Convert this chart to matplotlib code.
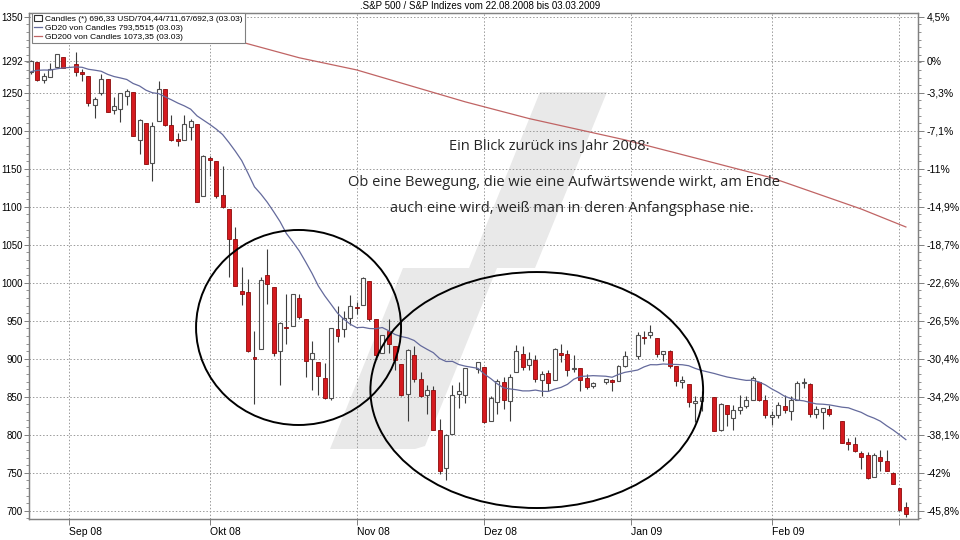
import matplotlib
matplotlib.use("Agg")
import matplotlib.pyplot as plt
import numpy as np
import pandas as pd
from matplotlib.lines import Line2D
from matplotlib.patches import Ellipse, Polygon, Rectangle
from matplotlib.ticker import FixedLocator, MultipleLocator, FuncFormatter
from matplotlib import transforms

plt.rcParams["font.family"] = ["Liberation Sans", "DejaVu Sans"]

# S&P 500 daily candles, 22.08.2008 - 03.03.2009
dates = [
    "2008-08-22", "2008-08-25", "2008-08-26", "2008-08-27", "2008-08-28", "2008-08-29",
    "2008-09-02", "2008-09-03", "2008-09-04", "2008-09-05", "2008-09-08", "2008-09-09",
    "2008-09-10", "2008-09-11", "2008-09-12", "2008-09-15", "2008-09-16", "2008-09-17",
    "2008-09-18", "2008-09-19", "2008-09-22", "2008-09-23", "2008-09-24", "2008-09-25",
    "2008-09-26", "2008-09-29", "2008-09-30",
    "2008-10-01", "2008-10-02", "2008-10-03", "2008-10-06", "2008-10-07", "2008-10-08",
    "2008-10-09", "2008-10-10", "2008-10-13", "2008-10-14", "2008-10-15", "2008-10-16",
    "2008-10-17", "2008-10-20", "2008-10-21", "2008-10-22", "2008-10-23", "2008-10-24",
    "2008-10-27", "2008-10-28", "2008-10-29", "2008-10-30", "2008-10-31",
    "2008-11-03", "2008-11-04", "2008-11-05", "2008-11-06", "2008-11-07", "2008-11-10",
    "2008-11-11", "2008-11-12", "2008-11-13", "2008-11-14", "2008-11-17", "2008-11-18",
    "2008-11-19", "2008-11-20", "2008-11-21", "2008-11-24", "2008-11-25", "2008-11-26",
    "2008-11-28",
    "2008-12-01", "2008-12-02", "2008-12-03", "2008-12-04", "2008-12-05", "2008-12-08",
    "2008-12-09", "2008-12-10", "2008-12-11", "2008-12-12", "2008-12-15", "2008-12-16",
    "2008-12-17", "2008-12-18", "2008-12-19", "2008-12-22", "2008-12-23", "2008-12-24",
    "2008-12-26", "2008-12-29", "2008-12-30", "2008-12-31",
    "2009-01-02", "2009-01-05", "2009-01-06", "2009-01-07", "2009-01-08", "2009-01-09",
    "2009-01-12", "2009-01-13", "2009-01-14", "2009-01-15", "2009-01-16", "2009-01-20",
    "2009-01-21", "2009-01-22", "2009-01-23", "2009-01-26", "2009-01-27", "2009-01-28",
    "2009-01-29", "2009-01-30",
    "2009-02-02", "2009-02-03", "2009-02-04", "2009-02-05", "2009-02-06", "2009-02-09",
    "2009-02-10", "2009-02-11", "2009-02-12", "2009-02-13", "2009-02-17", "2009-02-18",
    "2009-02-19", "2009-02-20", "2009-02-23", "2009-02-24", "2009-02-25", "2009-02-26",
    "2009-02-27",
    "2009-03-02", "2009-03-03",
]
opens = [
    1277.59, 1290.47, 1267.03, 1271.29, 1283.79, 1296.49,
    1287.83, 1276.61, 1271.80, 1233.21, 1249.50, 1267.98,
    1227.50, 1229.04, 1245.88, 1250.92, 1188.31, 1210.34,
    1157.08, 1213.11, 1255.37, 1207.61, 1188.79, 1187.87,
    1204.47, 1209.07, 1113.78,
    1164.17, 1160.64, 1115.16, 1097.56, 1057.60, 988.91,
    988.42, 902.31, 912.75, 1009.97, 994.60, 909.53,
    942.29, 943.51, 980.40, 951.67, 899.08, 895.22,
    874.28, 848.92, 939.51, 939.38, 953.11,
    968.67, 971.31, 1001.84, 952.40, 907.44, 936.75,
    917.15, 893.39, 853.13, 904.36, 873.23, 852.34,
    859.03, 805.87, 755.84, 801.20, 853.40, 852.90,
    886.89,
    888.61, 817.94, 843.60, 869.75, 844.43, 882.71,
    906.48, 892.17, 898.35, 871.79, 881.07, 871.53,
    908.16, 905.98, 886.96, 887.20, 874.31, 863.87,
    869.51, 872.37, 870.58, 890.59,
    902.99, 929.17, 931.17, 927.45, 905.73, 909.91,
    890.40, 869.79, 867.28, 841.99, 844.45, 849.64,
    806.77, 839.74, 822.16, 832.50, 837.30, 845.73,
    868.89, 845.69,
    823.09, 825.69, 837.77, 831.75, 846.09, 868.24,
    866.87, 827.41, 829.91, 833.95, 818.61, 791.06,
    787.91, 775.87, 773.25, 744.69, 770.64, 765.76,
    749.93,
    729.57, 704.44,
]
highs = [
    1293.09, 1290.47, 1275.65, 1289.59, 1300.68, 1297.59,
    1303.04, 1280.60, 1271.80, 1244.94, 1274.42, 1268.66,
    1243.90, 1249.98, 1255.09, 1250.92, 1214.84, 1210.34,
    1211.14, 1265.12, 1255.37, 1221.15, 1197.41, 1220.03,
    1215.77, 1209.07, 1168.03,
    1167.03, 1160.64, 1153.82, 1097.56, 1072.91, 1021.06,
    1005.25, 936.36, 1006.93, 1044.31, 994.60, 947.71,
    984.64, 985.40, 985.44, 951.67, 922.83, 896.30,
    893.78, 940.51, 969.97, 963.23, 984.38,
    975.10, 1007.51, 1001.84, 952.40, 931.46, 951.95,
    917.15, 893.39, 913.01, 916.88, 882.29, 865.90,
    864.57, 820.52, 801.20, 865.60, 868.94, 887.68,
    896.25,
    888.61, 850.54, 873.12, 875.60, 879.42, 918.57,
    916.26, 908.27, 904.63, 883.24, 884.63, 914.66,
    918.85, 911.02, 905.47, 887.37, 880.44, 869.79,
    873.74, 873.70, 891.12, 910.32,
    934.73, 936.63, 943.85, 927.45, 910.00, 911.93,
    890.40, 877.02, 867.28, 851.59, 858.13, 849.64,
    841.72, 839.74, 838.61, 852.53, 850.45, 877.86,
    868.89, 851.66,
    830.78, 842.60, 851.85, 850.55, 870.75, 875.01,
    868.05, 838.22, 835.48, 839.43, 818.61, 796.17,
    797.58, 778.69, 777.85, 775.49, 780.12, 779.42,
    751.27,
    729.57, 711.67,
]
lows = [
    1274.66, 1264.87, 1263.21, 1271.29, 1283.79, 1282.74,
    1272.20, 1265.59, 1232.83, 1217.23, 1247.12, 1224.51,
    1221.60, 1211.54, 1233.81, 1192.70, 1169.28, 1155.88,
    1133.50, 1213.11, 1205.61, 1187.06, 1179.79, 1187.87,
    1187.54, 1106.42, 1113.78,
    1140.77, 1111.43, 1098.14, 1007.97, 996.23, 970.97,
    909.19, 839.80, 912.75, 972.07, 903.99, 865.83,
    918.74, 943.51, 952.47, 875.81, 858.44, 852.85,
    846.75, 845.27, 922.26, 928.50, 944.59,
    958.82, 971.31, 949.86, 899.73, 906.90, 907.47,
    884.90, 850.48, 818.69, 869.88, 848.98, 826.84,
    806.18, 747.78, 741.02, 801.20, 834.99, 841.37,
    881.21,
    815.69, 817.94, 827.60, 833.60, 818.41, 882.71,
    885.38, 885.45, 868.73, 851.35, 857.72, 871.53,
    895.94, 877.44, 883.02, 857.09, 860.10, 861.44,
    866.52, 857.07, 870.58, 889.67,
    899.35, 919.53, 927.28, 902.37, 896.81, 888.31,
    864.32, 862.02, 836.93, 817.04, 830.66, 804.47,
    804.30, 811.29, 806.07, 827.69, 835.40, 845.73,
    844.15, 821.67,
    812.87, 821.98, 829.18, 819.91, 845.42, 861.65,
    822.99, 822.08, 808.06, 825.21, 789.17, 780.43,
    777.03, 754.25, 742.37, 744.69, 752.89, 751.75,
    734.52,
    699.70, 692.30,
]
closes = [
    1292.20, 1266.84, 1271.51, 1281.66, 1300.68, 1282.83,
    1277.58, 1274.98, 1236.83, 1242.31, 1267.79, 1224.51,
    1232.04, 1249.05, 1251.70, 1192.70, 1213.60, 1156.39,
    1206.51, 1255.08, 1207.09, 1188.22, 1185.87, 1209.18,
    1213.27, 1106.42, 1166.36,
    1161.06, 1114.28, 1099.23, 1056.89, 996.23, 984.94,
    909.92, 899.22, 1003.35, 998.01, 907.84, 946.43,
    940.55, 985.40, 955.05, 896.78, 908.11, 876.77,
    848.92, 940.51, 930.09, 954.09, 968.75,
    966.30, 1005.75, 952.77, 904.88, 930.99, 919.21,
    898.95, 852.30, 911.29, 873.29, 850.75, 859.12,
    806.58, 752.44, 800.03, 851.81, 857.39, 887.68,
    896.24,
    816.21, 848.81, 870.74, 845.22, 876.07, 909.70,
    888.67, 899.24, 873.59, 879.73, 868.57, 913.18,
    904.42, 885.28, 887.88, 871.63, 863.16, 868.15,
    872.80, 869.42, 890.64, 903.25,
    931.80, 927.45, 934.70, 906.65, 909.73, 890.35,
    870.26, 871.79, 842.62, 843.74, 850.12, 805.22,
    840.24, 827.50, 831.95, 836.57, 845.71, 874.09,
    845.14, 825.88,
    825.44, 838.51, 832.23, 845.85, 868.60, 869.89,
    827.16, 833.74, 835.19, 826.84, 789.17, 788.42,
    778.94, 770.05, 743.33, 773.14, 764.90, 752.83,
    735.09,
    700.82, 696.33,
]
# closes of the 19 sessions before the window (needed for GD20)
pre_closes = [
    1234.37, 1263.20, 1284.26, 1267.38, 1260.31, 1249.01, 1284.88, 1289.19,
    1266.07, 1296.32, 1305.32, 1289.59, 1285.83, 1292.93, 1298.20, 1278.60,
    1266.69, 1274.54, 1277.72,
]
# GD200
gd200_dates = ["2008-08-22", "2008-09-15", "2008-10-01", "2008-10-21", "2008-11-03",
               "2008-11-26", "2008-12-10", "2008-12-31", "2009-01-16", "2009-02-02",
               "2009-02-20", "2009-03-03"]
gd200_vals = [1368, 1352, 1328, 1296, 1280, 1238, 1216, 1188, 1162, 1138, 1097, 1073.35]

month_starts = ["2008-09-01", "2008-10-01", "2008-11-01", "2008-12-01",
                "2009-01-01", "2009-02-01", "2009-03-01"]
month_labels = ["Sep 08", "Okt 08", "Nov 08", "Dez 08", "Jan 09", "Feb 09", ""]
price_ticks = [700, 750, 800, 850, 900, 950, 1000, 1050, 1100, 1150, 1200, 1250, 1292, 1350]

title = ".S&P 500 / S&P Indizes vom 22.08.2008 bis 03.03.2009"
note_head = "Ein Blick zurück ins Jahr 2008:"
note_lines = ["Ob eine Bewegung, die wie eine Aufwärtswende wirkt, am Ende",
              "auch eine wird, weiß man in deren Anfangsphase nie."]

W, H = 960, 540


def fig_xy(px, py):
    return px / W, 1 - py / H


def de_num(v, nd):
    return f"{v:.{nd}f}".replace(".", ",")


def weekday_pos(ds, start):
    return np.busday_count(np.datetime64(start), np.array(ds, dtype="datetime64[D]"))


o = np.array(opens)
h = np.array(highs)
lo = np.array(lows)
c = np.array(closes)
x = weekday_pos(dates, dates[0])
gd20 = pd.Series(pre_closes + closes).rolling(20).mean().to_numpy()[len(pre_closes):]
x200 = weekday_pos(gd200_dates, dates[0])

fig = plt.figure(figsize=(W / 100, H / 100), dpi=100)
ax = fig.add_axes([29 / W, 1 - 519 / H, 889 / W, 506 / H])
ax.set_axisbelow(True)

# watermark
wm = [(540, 92), (607, 92), (535, 268), (497, 268), (425, 446), (415, 449),
      (330, 449), (403, 268), (469, 268)]
ax.add_patch(Polygon([fig_xy(*p) for p in wm], closed=True, transform=fig.transFigure,
                     facecolor="#e9e9e9", edgecolor="none", zorder=0.2))

# candles
up = c >= o
ax.vlines(x, lo, h, color="#3c3c3c", lw=0.8, zorder=3)
ax.bar(x[up], (c - o)[up], bottom=o[up], width=0.62, facecolor="white",
       edgecolor="#505050", lw=0.8, zorder=4)
ax.bar(x[~up], (o - c)[~up], bottom=c[~up], width=0.62, facecolor="#d51a1f",
       edgecolor="#8c0a0a", lw=0.6, zorder=4)

blue = "#646a9c"
red = "#c06464"
ax.plot(x, gd20, color=blue, lw=0.9, zorder=5)
ax.plot(x200, gd200_vals, color=red, lw=0.9, zorder=5)

# circles
ax.add_patch(Ellipse((41.9, 941.1), 32.1, 256.6, fill=False, edgecolor="black", lw=1.4, zorder=6))
ax.add_patch(Ellipse((79.2, 858.8), 52.1, 310.5, fill=False, edgecolor="black", lw=1.4, zorder=6))

ax.set_xlim(-0.31, 138.9)
ax.set_ylim(689.1, 1354.9)

gridkw = dict(color="#9a9a9a", lw=0.7, ls=(0, (1.5, 2)))
ax.yaxis.set_major_locator(FixedLocator(price_ticks))
ax.yaxis.set_minor_locator(MultipleLocator(10))
ax.yaxis.set_major_formatter(FuncFormatter(lambda v, p: f"{v:.0f}"))
ax.xaxis.set_major_locator(FixedLocator(weekday_pos(
    [np.busday_offset(m, 0, roll="forward") for m in month_starts], dates[0])))
ax.set_xticklabels(month_labels)
off = transforms.ScaledTranslation(3 / 100, 0, fig.dpi_scale_trans)
for lab in ax.get_xticklabels():
    lab.set_horizontalalignment("left")
    lab.set_transform(lab.get_transform() + off)
ax.grid(True, which="major", **gridkw)

spine_c = "#808080"
for s in ax.spines.values():
    s.set_color(spine_c)
    s.set_linewidth(0.9)
ax.tick_params(axis="x", which="major", length=4, width=0.7, color=spine_c,
               labelsize=7.5, pad=2)
ax.tick_params(axis="y", which="major", length=3.5, width=0.7, color=spine_c,
               labelsize=7, pad=1.2)
ax.tick_params(axis="y", which="minor", length=2, width=0.6, color=spine_c)

ref = closes[0]


def pct(v, p):
    r = round((v / ref - 1) * 100, 1)
    if r == 0:
        return "0%"
    s = de_num(r, 1)
    if s.endswith(",0"):
        s = s[:-2]
    return s + "%"


ax2 = ax.twinx()
ax2.set_ylim(ax.get_ylim())
ax2.yaxis.set_major_locator(FixedLocator(price_ticks))
ax2.yaxis.set_minor_locator(MultipleLocator(10))
ax2.yaxis.set_major_formatter(FuncFormatter(pct))
for s in ax2.spines.values():
    s.set_color(spine_c)
    s.set_linewidth(0.9)
ax2.tick_params(axis="y", which="major", length=4, width=0.7, color=spine_c,
                labelsize=7.5, pad=2)
ax2.tick_params(axis="y", which="minor", length=2, width=0.6, color=spine_c)

# legend
handles = [
    Rectangle((0, 0), 1, 1, facecolor="white", edgecolor="#303030", lw=0.8),
    Line2D([], [], color=blue, lw=0.9),
    Line2D([], [], color=red, lw=0.9),
]
stamp = f"({dates[-1][8:10]}.{dates[-1][5:7]})"
labels = [
    f"Candles (*) {de_num(c[-1], 2)} USD/{de_num(o[-1], 2)}/{de_num(h[-1], 2)}/"
    f"{de_num(lo[-1], 2).rstrip('0')} {stamp}",
    f"GD20 von Candles {de_num(gd20[-1], 4)} {stamp}",
    f"GD200 von Candles {de_num(gd200_vals[-1], 2)} {stamp}",
]
leg = ax2.legend(handles, labels, loc="upper left", bbox_to_anchor=(3 / 889, 1.0),
                 borderaxespad=0, fontsize=6, frameon=True, fancybox=False,
                 framealpha=1, edgecolor="#808080", borderpad=0.25, labelspacing=0.12,
                 handlelength=1.0, handleheight=0.8, handletextpad=0.35)
leg.get_frame().set_linewidth(0.8)
leg.set_zorder(10)

fig.text(*fig_xy(480, 6), title, ha="center", va="center", fontsize=7)
note_kw = dict(ha="center", va="center", fontsize=10.5, color="#262626",
               family=["Open Sans", "DejaVu Sans"])
fig.text(*fig_xy(549, 147), note_head, **note_kw)
fig.text(*fig_xy(564, 183), note_lines[0], **note_kw)
fig.text(*fig_xy(572, 208), note_lines[1], **note_kw)

fig.savefig("out.png", dpi=100)
